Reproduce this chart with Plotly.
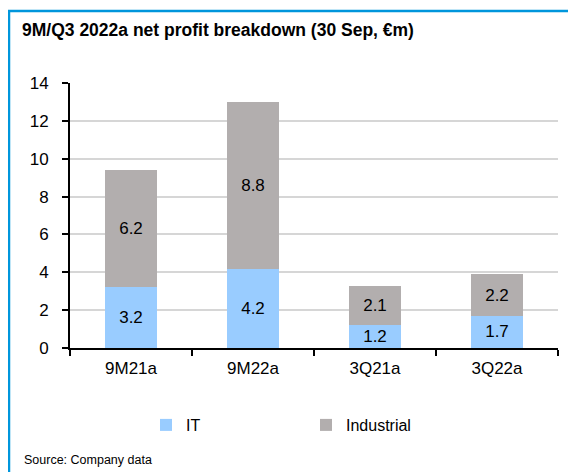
import plotly.graph_objects as go

# data
categories = ["9M21a", "9M22a", "3Q21a", "3Q22a"]
it_values = [3.2, 4.2, 1.2, 1.7]
industrial_values = [6.2, 8.8, 2.1, 2.2]
y_ticks = [0, 2, 4, 6, 8, 10, 12, 14]

FONT = "Liberation Sans, Arial, sans-serif"
# the page has an 8px body margin, so the figure is a bit smaller than the window
W, H = 568, 464
L, R, T, B = 62, 18, 75, 124
pw, ph = W - L - R, H - T - B

fig = go.Figure()
fig.add_trace(go.Bar(x=categories, y=it_values, name="IT",
                     marker=dict(color="#99CCFF", line_width=0),
                     texttemplate="%{y:.1f}", textposition="inside",
                     insidetextanchor="middle", constraintext="none",
                     textfont=dict(size=17, color="black")))
fig.add_trace(go.Bar(x=categories, y=industrial_values, name="Industrial",
                     marker=dict(color="#B2AEAE", line_width=0),
                     texttemplate="%{y:.1f}", textposition="inside",
                     insidetextanchor="middle", constraintext="none",
                     textfont=dict(size=17, color="black")))

fig.update_layout(
    width=W, height=H,
    barmode="stack", bargap=0.58,
    margin=dict(l=L, r=R, t=T, b=B),
    paper_bgcolor="white", plot_bgcolor="white",
    font=dict(family=FONT, size=17, color="black"),
    title=dict(text="<b>9M/Q3 2022a net profit breakdown (30 Sep, €m)</b>",
               xref="container", yref="container",
               x=14 / W, y=1 - 22 / H, xanchor="left", yanchor="middle",
               font=dict(size=17.5, family=FONT, color="black")),
    legend=dict(orientation="h", x=(138 - L) / pw, xanchor="left",
                y=-(417 - T - ph) / ph, yanchor="middle",
                entrywidth=115, entrywidthmode="pixels",
                itemwidth=30, font=dict(size=16), traceorder="normal"),
    uniformtext=dict(minsize=17, mode="show"),
)

fig.update_xaxes(showline=True, linecolor="black", linewidth=2,
                 ticks="outside", tickson="boundaries", ticklen=6,
                 tickwidth=2, tickcolor="black", showgrid=False,
                 ticklabelstandoff=4)
fig.update_yaxes(range=[0, 14], tickvals=y_ticks, showline=True,
                 linecolor="black", linewidth=2, ticks="outside", ticklen=6,
                 tickwidth=2, tickcolor="black", showgrid=True,
                 gridcolor="#D6D6D6", gridwidth=2, zeroline=False,
                 ticklabelstandoff=10)

# blue frame on the left and top
px_x = lambda v: (v - L) / pw
px_y = lambda v: 1 - (v - T) / ph
fig.add_shape(type="line", xref="paper", yref="paper",
              x0=px_x(1), x1=px_x(1), y0=px_y(3), y1=px_y(480),
              line=dict(color="#0096DC", width=2.5))
fig.add_shape(type="line", xref="paper", yref="paper",
              x0=px_x(0), x1=px_x(590), y0=px_y(3), y1=px_y(3),
              line=dict(color="#0096DC", width=2.5))

fig.add_annotation(text="Source: Company data", xref="paper", yref="paper",
                   x=px_x(14), y=px_y(452), xanchor="left", yanchor="middle",
                   showarrow=False, font=dict(size=12.5, family=FONT))

fig.write_html("out.html")
